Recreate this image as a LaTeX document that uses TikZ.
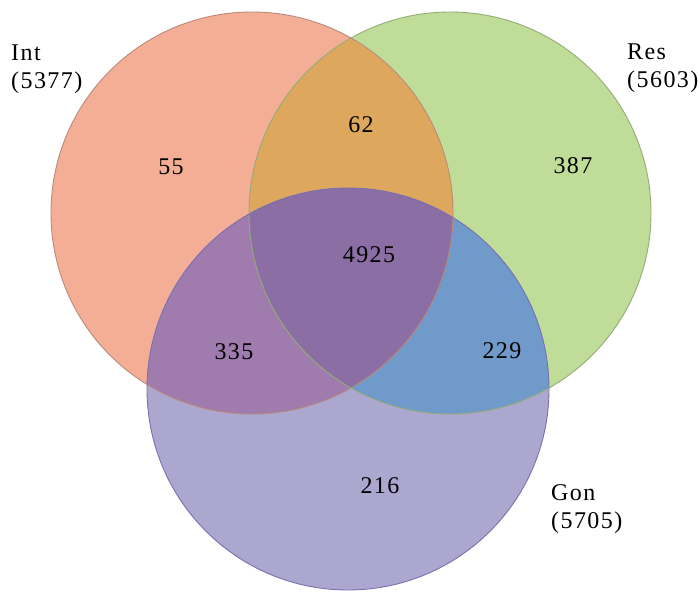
\documentclass[tikz,border=0pt]{standalone}
\usepackage{fontspec}
\setmainfont{Liberation Serif}
\newfontfamily\lblfont{Liberation Serif}[LetterSpace=6]
\definecolor{intc}{HTML}{F4AE96}
\definecolor{resc}{HTML}{BFDC98}
\definecolor{irc}{HTML}{DDA85E}
\definecolor{gonc}{HTML}{ACA7CF}
\definecolor{igc}{HTML}{A07BAE}
\definecolor{rgc}{HTML}{6F9ACA}
\definecolor{allc}{HTML}{8B6EA3}
\definecolor{intl}{HTML}{B98A7C}
\definecolor{resl}{HTML}{94AC78}
\definecolor{gonl}{HTML}{7A70B0}
\tikzset{
  lbl/.style={font=\lblfont\fontsize{24}{28}\selectfont, text=black, inner sep=0pt, align=left},
  num/.style={font=\lblfont\fontsize{24}{28}\selectfont, text=black, inner sep=0pt},
  outline/.style={line width=0.9pt}
}
\begin{document}
\begin{tikzpicture}[x=1pt,y=-1pt]
\useasboundingbox (0,0) rectangle (700,604);
\coordinate (I) at (252,213);
\coordinate (R) at (450,213);
\coordinate (G) at (348,389);
\def\rr{201pt}
\fill[intc] (I) circle[radius=\rr];
\fill[resc] (R) circle[radius=\rr];
\begin{scope}
  \clip (I) circle[radius=\rr];
  \fill[irc] (R) circle[radius=\rr];
\end{scope}
\fill[gonc] (G) circle[radius=\rr];
\begin{scope}
  \clip (G) circle[radius=\rr];
  \fill[igc] (I) circle[radius=\rr];
\end{scope}
\begin{scope}
  \clip (G) circle[radius=\rr];
  \fill[rgc] (R) circle[radius=\rr];
\end{scope}
\begin{scope}
  \clip (G) circle[radius=\rr];
  \clip (I) circle[radius=\rr];
  \fill[allc] (R) circle[radius=\rr];
\end{scope}
\draw[outline, intl] (I) circle[radius=\rr];
\draw[outline, resl] (R) circle[radius=\rr];
\draw[outline, gonl] (G) circle[radius=\rr];

\node[lbl, anchor=north west] (intlab) at (11,45) {Int\\(5377)};
\node[lbl, anchor=north west] (reslab) at (627,44) {Res\\(5603)};
\node[lbl, anchor=north west] (gonlab) at (551,484) {Gon\\(5705)};

\node[num] (n55) at (171,167) {55};
\node[num] (n62) at (361,125) {62};
\node[num] (n387) at (573,166) {387};
\node[num] (n4925) at (369,255) {4925};
\node[num] (n335) at (234,352) {335};
\node[num] (n229) at (502,351) {229};
\node[num] (n216) at (380,486) {216};
\end{tikzpicture}
\end{document}
